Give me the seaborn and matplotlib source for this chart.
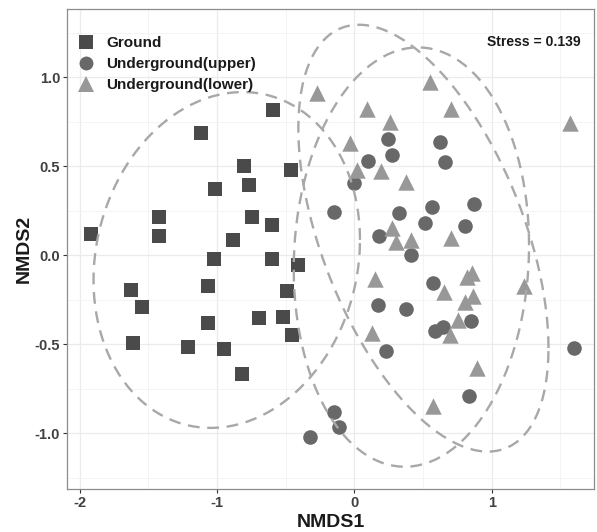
import numpy as np
import pandas as pd
import matplotlib
matplotlib.use("Agg")
import matplotlib.pyplot as plt
from matplotlib.ticker import MultipleLocator
from matplotlib.lines import Line2D
import seaborn as sns

# ---------------- data ----------------
ground_x = [-0.590, -1.117, -0.801, -0.459, -1.015, -0.765, -1.420, -0.747, -0.602,
            -1.918, -1.420, -0.886, -1.020, -0.599, -0.408, -1.626, -1.068, -0.488,
            -1.548, -1.063, -0.692, -0.517, -0.452, -1.610, -1.209, -0.947, -0.820]
ground_y = [0.816, 0.685, 0.503, 0.478, 0.372, 0.395, 0.213, 0.213, 0.170,
            0.120, 0.108, 0.088, -0.022, -0.019, -0.056, -0.193, -0.174, -0.201,
            -0.289, -0.382, -0.354, -0.345, -0.448, -0.494, -0.517, -0.526, -0.667]

upper_x = [0.248, 0.626, 0.272, 0.102, 0.661, -0.002, -0.150, 0.568, 0.870,
           0.328, 0.513, 0.804, 0.182, 0.413, 0.575, 0.175, 0.379, 0.850,
           0.588, 0.648, 0.231, 1.602, 0.838, -0.146, -0.109, -0.323]
upper_y = [0.652, 0.635, 0.563, 0.528, 0.526, 0.404, 0.245, 0.273, 0.287,
           0.236, 0.183, 0.165, 0.108, 0.002, -0.154, -0.281, -0.303, -0.367,
           -0.425, -0.401, -0.536, -0.519, -0.790, -0.882, -0.966, -1.019]

lower_x = [0.551, -0.269, 0.090, 0.704, 1.571, 0.260, -0.031, 0.017, 0.192,
           0.377, 0.272, 0.304, 0.411, 0.704, 0.151, 0.819, 0.859, 0.653,
           0.806, 0.867, 1.238, 0.127, 0.757, 0.697, 0.891, 0.575]
lower_y = [0.975, 0.910, 0.820, 0.820, 0.745, 0.751, 0.629, 0.479, 0.475,
           0.413, 0.152, 0.076, 0.086, 0.096, -0.135, -0.120, -0.101, -0.204,
           -0.261, -0.229, -0.171, -0.438, -0.363, -0.448, -0.635, -0.845]

groups = ["Ground", "Underground(upper)", "Underground(lower)"]
stress_label = "Stress = 0.139"

df = pd.concat([
    pd.DataFrame({"NMDS1": ground_x, "NMDS2": ground_y, "group": groups[0]}),
    pd.DataFrame({"NMDS1": upper_x, "NMDS2": upper_y, "group": groups[1]}),
    pd.DataFrame({"NMDS1": lower_x, "NMDS2": lower_y, "group": groups[2]}),
], ignore_index=True)

colors = {groups[0]: "#4a4a4a", groups[1]: "#686868", groups[2]: "#989898"}
markers = {groups[0]: "s", groups[1]: "o", groups[2]: "^"}
sizes = {groups[0]: 105, groups[1]: 110, groups[2]: 140}


# ---------------- stat_ellipse (type = "t", level = 0.95) ----------------
def cov_trob(x, nu=5, maxit=25, tol=0.01):
    n, p = x.shape
    wt = np.ones(n)
    loc = x.mean(axis=0)
    w = np.sqrt(wt)
    X = x - loc
    for _ in range(maxit):
        w0 = w
        X = x - loc
        _, d, vt = np.linalg.svd(np.sqrt(w / w.sum())[:, None] * X, full_matrices=False)
        wX = X @ vt.T @ np.diag(1 / d)
        Q = (wX ** 2).sum(axis=1)
        w = (wt * (nu + p)) / (nu + Q)
        loc = (w[:, None] * x).sum(axis=0) / w.sum()
        if np.all(np.abs(w - w0) < tol):
            break
    cov = (np.sqrt(w)[:, None] * X).T @ (np.sqrt(w)[:, None] * X) / wt.sum()
    return loc, cov


def ellipse_pts(xs, ys, level=0.95, segments=120):
    data = np.column_stack([xs, ys])
    center, shape = cov_trob(data)
    dfn, dfd = 2, len(xs) - 1
    qf = (dfd / 2.0) * ((1 - level) ** (-2.0 / dfd) - 1)
    radius = np.sqrt(dfn * qf)
    chol = np.linalg.cholesky(shape).T  # upper triangular like R chol
    ang = np.linspace(0, 2 * np.pi, segments + 1)
    circ = np.column_stack([np.cos(ang), np.sin(ang)])
    return center + radius * (circ @ chol)


# ---------------- plotting ----------------
sns.set_theme(style="white")
plt.rcParams["font.family"] = ["Liberation Sans", "DejaVu Sans"]
plt.rcParams["lines.scale_dashes"] = False

fig = plt.figure(figsize=(5.97, 5.32), dpi=100)
ax = fig.add_axes([67 / 597, 1 - 489.3 / 532, (594 - 67) / 597, (489.3 - 9) / 532])

for g in groups:
    sub = df[df["group"] == g]
    sns.scatterplot(data=sub, x="NMDS1", y="NMDS2", marker=markers[g],
                    color=colors[g], s=sizes[g], linewidth=0, ax=ax,
                    zorder=3, legend=False)

for xs, ys in [(ground_x, ground_y), (upper_x, upper_y), (lower_x, lower_y)]:
    e = ellipse_pts(np.array(xs), np.array(ys))
    ax.plot(e[:, 0], e[:, 1], color="#a8a8a8", lw=1.7, dashes=(8.5, 5.5),
            zorder=4, solid_capstyle="butt", dash_capstyle="butt")

ax.set_xlim(-2.092, 1.745)
ax.set_ylim(-1.315, 1.384)
ax.set_xticks([-2, -1, 0, 1])
ax.set_xticklabels(["-2", "-1", "0", "1"])
ax.set_yticks([-1.0, -0.5, 0.0, 0.5, 1.0])
ax.set_yticklabels(["-1.0", "-0.5", "0.0", "0.5", "1.0"])
ax.xaxis.set_minor_locator(MultipleLocator(0.5))
ax.yaxis.set_minor_locator(MultipleLocator(0.25))
ax.grid(which="major", color="#ebebeb", lw=0.9, zorder=0)
ax.grid(which="minor", color="#f2f2f2", lw=0.6, zorder=0)
ax.set_axisbelow(True)

for side in ["top", "right", "left", "bottom"]:
    ax.spines[side].set_color("#8c8c8c")
    ax.spines[side].set_linewidth(0.9)

ax.tick_params(which="major", length=3, width=0.8, color="#333333",
               labelsize=10.5, labelcolor="#404040", pad=2, direction="out",
               bottom=True, left=True)
ax.tick_params(which="minor", length=0)
for lab in ax.get_xticklabels() + ax.get_yticklabels():
    lab.set_fontweight("bold")

ax.set_xlabel("NMDS1", fontsize=14, fontweight="bold", color="#1a1a1a", labelpad=3)
ax.set_ylabel("NMDS2", fontsize=14, fontweight="bold", color="#1a1a1a", labelpad=1)

ax.text(0.975, 0.932, stress_label, transform=ax.transAxes, ha="right", va="center",
        fontsize=10, fontweight="bold", color="#1a1a1a")

handles = [Line2D([], [], linestyle="none", marker=markers[g], color=colors[g],
                  markersize=(11 if g == groups[2] else 10), markeredgewidth=0)
           for g in groups]
leg = ax.legend(handles, groups, loc="upper left", bbox_to_anchor=(-0.012, 0.975),
                frameon=False, handletextpad=0.7, borderaxespad=0.6,
                labelspacing=0.45, handlelength=1.3,
                prop={"weight": "bold", "size": 11})
for t in leg.get_texts():
    t.set_color("#1a1a1a")

fig.savefig("out.png", dpi=100)
